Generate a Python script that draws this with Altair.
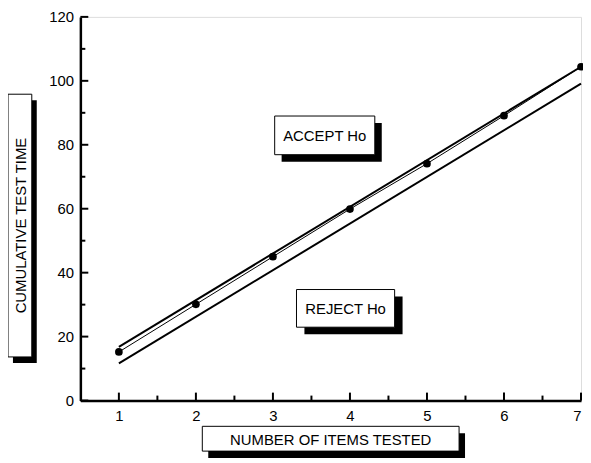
import altair as alt
import pandas as pd

# Data
items = [1, 2, 3, 4, 5, 6, 7]
test_time = [15.2, 30.1, 45.0, 59.9, 74.1, 89.1, 104.4]
accept_x = [1, 7]
accept_y = [16.8, 104.4]
reject_x = [1, 7]
reject_y = [11.6, 99.1]

y_major = [0, 20, 40, 60, 80, 100, 120]
y_minor = [10, 30, 50, 70, 90, 110]
x_major = [1, 2, 3, 4, 5, 6, 7]
x_minor = [1.5, 2.5, 3.5, 4.5, 5.5, 6.5]

W, H = 505, 387
FONT = "Liberation Sans"
FS = 15

pts = pd.DataFrame({"x": items, "y": test_time})
up = pd.DataFrame({"x": accept_x, "y": accept_y})
lo = pd.DataFrame({"x": reject_x, "y": reject_y})

xs = alt.Scale(domain=[0.5, 7], nice=False, zero=False)
ys = alt.Scale(domain=[0, 120], nice=False)

xax = alt.Axis(values=x_major, format="d", ticks=False, grid=False, title=None,
               domainWidth=2.5, domainColor="black", labelFontSize=FS,
               labelFont=FONT, labelColor="black", labelPadding=8)
yax = alt.Axis(values=y_major, format="d", ticks=False, grid=False, title=None,
               domainWidth=2.5, domainColor="black", labelFontSize=FS,
               labelFont=FONT, labelColor="black", labelPadding=7)

base_line = alt.Chart(pts).mark_line(color="black", strokeWidth=1).encode(
    x=alt.X("x:Q", scale=xs, axis=xax),
    y=alt.Y("y:Q", scale=ys, axis=yax),
)
points = alt.Chart(pts).mark_circle(color="black", size=60, opacity=1).encode(
    x=alt.X("x:Q", scale=xs), y=alt.Y("y:Q", scale=ys))
upper = alt.Chart(up).mark_line(color="black", strokeWidth=2).encode(
    x=alt.X("x:Q", scale=xs), y=alt.Y("y:Q", scale=ys))
lower = alt.Chart(lo).mark_line(color="black", strokeWidth=2).encode(
    x=alt.X("x:Q", scale=xs), y=alt.Y("y:Q", scale=ys))

# inward ticks
yt_major = alt.Chart(pd.DataFrame({"v": y_major})).mark_rule(color="black", strokeWidth=2).encode(
    y=alt.Y("v:Q", scale=ys), x=alt.value(0), x2=alt.value(8))
yt_minor = alt.Chart(pd.DataFrame({"v": y_minor})).mark_rule(color="black", strokeWidth=2).encode(
    y=alt.Y("v:Q", scale=ys), x=alt.value(0), x2=alt.value(5))
xt_major = alt.Chart(pd.DataFrame({"v": x_major})).mark_rule(color="black", strokeWidth=2).encode(
    x=alt.X("v:Q", scale=xs), y=alt.value(H), y2=alt.value(H - 8))
xt_minor = alt.Chart(pd.DataFrame({"v": x_minor})).mark_rule(color="black", strokeWidth=2).encode(
    x=alt.X("v:Q", scale=xs), y=alt.value(H), y2=alt.value(H - 5))


def box(x1, y1, x2, y2, dx, dy, label, angle=0):
    d = pd.DataFrame({"t": [label]})
    shadow = alt.Chart(d).mark_rect(color="black").encode(
        x=alt.value(x1 + dx), x2=alt.value(x2 + dx),
        y=alt.value(y1 + dy), y2=alt.value(y2 + dy))
    face = alt.Chart(d).mark_rect(fill="white", stroke="black", strokeWidth=1).encode(
        x=alt.value(x1), x2=alt.value(x2), y=alt.value(y1), y2=alt.value(y2))
    txt = alt.Chart(d).mark_text(font=FONT, fontSize=FS, color="black", angle=angle,
                                 align="center", baseline="middle").encode(
        x=alt.value((x1 + x2) / 2 + (1 if angle else 0)),
        y=alt.value((y1 + y2) / 2 + (0 if angle else 1)), text="t:N")
    return [shadow, face, txt]


layers = [yt_major, yt_minor, xt_major, xt_minor, lower, upper, base_line, points]
layers += box(196, 100, 297, 139, 7, 7, "ACCEPT Ho")
layers += box(218, 275, 317, 313, 8, 7, "REJECT Ho")
layers += box(123, 413, 382, 438, 6, 7, "NUMBER OF ITEMS TESTED")
layers += box(-73, 78, -49, 343, 5, 6, "CUMULATIVE TEST TIME", angle=270)

chart = alt.layer(*layers).properties(
    width=W, height=H,
    autosize=alt.AutoSizeParams(type="none"),
    padding={"left": 73, "top": 7, "right": 2, "bottom": 58},
).configure_view(stroke=None).configure(background="white")

chart.save("out.html", embed_options={"renderer": "svg", "actions": False})
